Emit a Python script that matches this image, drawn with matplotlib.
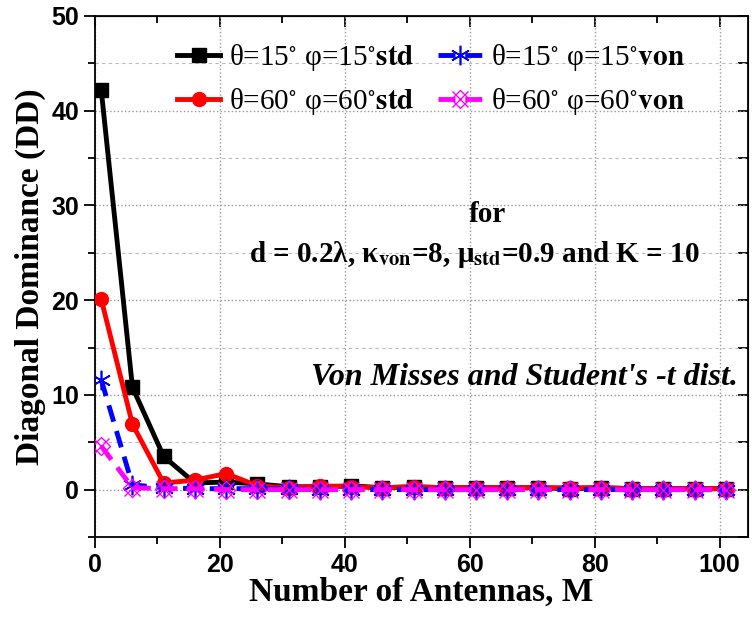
import numpy as np
import matplotlib
matplotlib.use('Agg')
import matplotlib.pyplot as plt
from matplotlib.ticker import MultipleLocator

plt.rcParams['mathtext.fontset'] = 'stix'

# number of antennas
M = [1, 6, 11, 16, 21, 26, 31, 36, 41, 46, 51, 56, 61, 66, 71, 76, 81, 86, 91, 96, 101]

# diagonal dominance
dd_15_std = [42.2, 10.8, 3.5, 0.7, 0.8, 0.6, 0.3, 0.3, 0.4, 0.2, 0.3, 0.2, 0.2, 0.2, 0.2, 0.1, 0.2, 0.1, 0.1, 0.1, 0.1]
dd_60_std = [20.1, 6.9, 0.7, 1.0, 1.7, 0.4, 0.2, 0.4, 0.3, 0.2, 0.3, 0.2, 0.2, 0.2, 0.2, 0.2, 0.2, 0.1, 0.1, 0.1, 0.1]
dd_15_von = [11.6, 0.5, 0.2, 0.1, 0.1, 0.1, 0.1, 0.0, 0.0, 0.0, 0.0, 0.0, 0.0, 0.0, 0.0, 0.0, 0.0, 0.0, 0.0, 0.0, 0.0]
dd_60_von = [4.6, 0.2, 0.1, 0.1, 0.0, 0.0, 0.0, 0.0, 0.0, 0.0, 0.0, 0.0, 0.0, 0.0, 0.0, 0.0, 0.0, 0.0, 0.0, 0.0, 0.0]

labels = [r'θ=15$^{\circ}$ φ=15$^{\circ}$$\mathbf{std}$',
          r'θ=60$^{\circ}$ φ=60$^{\circ}$$\mathbf{std}$',
          r'θ=15$^{\circ}$ φ=15$^{\circ}$$\mathbf{von}$',
          r'θ=60$^{\circ}$ φ=60$^{\circ}$$\mathbf{von}$']

fig = plt.figure(figsize=(7.52, 6.17), dpi=100)
ax = fig.add_axes([0.1263, 0.1297, 0.868, 0.8444])

l1, = ax.plot(M, dd_15_std, '-', color='black', lw=3.5, marker='s', ms=10, zorder=3)
l2, = ax.plot(M, dd_60_std, '-', color='red', lw=3.5, marker='o', ms=10, zorder=4)
l3, = ax.plot(M, dd_15_von, '--', color='blue', lw=3.5, marker=(6, 2, 0), ms=14,
              mew=1.2, dashes=(3.5, 2), zorder=5)
l4, = ax.plot(M, dd_60_von, '--', color='magenta', lw=3.5, marker='x', ms=11,
              mew=1.0, dashes=(3.5, 2), zorder=6)
l4b, = ax.plot(M, dd_60_von, ls='none', color='magenta', marker='D', ms=9,
               mfc='none', mew=1.0, zorder=6)

ax.set_xlim(0, 104.5)
ax.set_ylim(-5, 50)
ax.xaxis.set_major_locator(MultipleLocator(20))
ax.xaxis.set_minor_locator(MultipleLocator(10))
ax.yaxis.set_major_locator(MultipleLocator(10))
ax.yaxis.set_minor_locator(MultipleLocator(5))

ax.grid(True, which='major', axis='y', ls=':', color='#999999', lw=1.0)
ax.grid(True, which='minor', axis='y', ls='--', color='#bbbbbb', lw=0.8, dashes=(3, 3))
ax.grid(True, which='major', axis='x', ls=':', color='#999999', lw=1.0)

ax.tick_params(which='major', direction='out', length=8, width=1.3)
ax.tick_params(which='minor', direction='out', length=5, width=1.3)
for lab in ax.get_xticklabels() + ax.get_yticklabels():
    lab.set_family('Liberation Sans')
    lab.set_fontweight('bold')
    lab.set_fontsize(18)

top = ax.secondary_xaxis('top')
top.xaxis.set_major_locator(MultipleLocator(20))
top.xaxis.set_minor_locator(MultipleLocator(10))
top.tick_params(which='both', direction='in', labeltop=False, width=1.3)
top.tick_params(which='major', length=8)
top.tick_params(which='minor', length=5)
right = ax.secondary_yaxis('right')
right.yaxis.set_major_locator(MultipleLocator(10))
right.yaxis.set_minor_locator(MultipleLocator(5))
right.tick_params(which='both', direction='in', labelright=False, width=1.3, length=7)

for s in ax.spines.values():
    s.set_linewidth(1.3)

ax.set_xlabel('Number of Antennas, M', family='Liberation Serif', fontweight='bold',
              fontsize=24, labelpad=0)
ax.set_ylabel('Diagonal Dominance (DD)', family='Liberation Serif', fontweight='bold',
              fontsize=24, labelpad=4)

ax.legend([l1, l2, l3, (l4, l4b)], labels, ncol=2, loc='upper left',
          bbox_to_anchor=(0.085, 1.0), frameon=False,
          prop={'family': 'Liberation Serif', 'size': 21},
          handlelength=1.5, handletextpad=0.3, columnspacing=0.8, labelspacing=0.45)

tkw = dict(family='Liberation Serif', fontweight='bold')
ax.text(62.8, 29, 'for', ha='center', va='center', fontsize=21, **tkw)
ax.text(60.8, 24.8, r'd = 0.2λ, κ$_{\mathbf{von}}$=8, μ$_{\mathbf{std}}$=0.9 and K = 10',
        ha='center', va='center', fontsize=21, **tkw)
ax.text(102.9, 11.8, "Von Misses and Student's -t dist.", ha='right', va='center',
        style='italic', fontsize=23, **tkw)

fig.savefig('out.png', dpi=100)
